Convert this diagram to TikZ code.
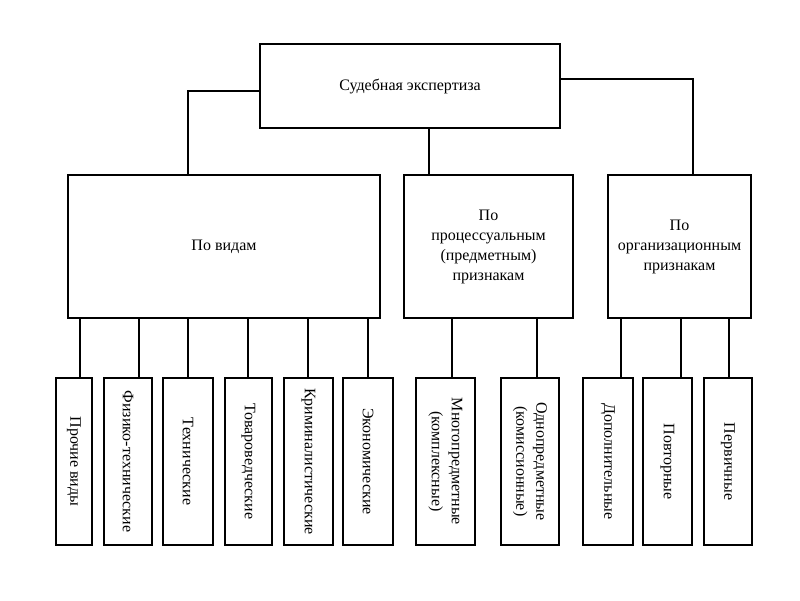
\documentclass[tikz,border=0pt]{standalone}
\usepackage{fontspec}
\setmainfont{Liberation Serif}
\usetikzlibrary{positioning}

\begin{document}
\begin{tikzpicture}[x=1pt, y=-1pt, font=\fontsize{16}{20}\selectfont,
    box/.style={rectangle, draw, line width=1.8pt, align=center},
    kind/.style={box, minimum width=#1, minimum height=167pt},
    vtext/.style={rotate=-90, align=center},
    link/.style={line width=1.3pt},
    thicklink/.style={line width=2pt}]
    \useasboundingbox (0,0) rectangle (800,600);

    % Root
    \node[box, minimum width=300pt, minimum height=84pt] (expert) at (410,86) {Судебная экспертиза};

    % Groups
    \node[box, minimum width=312pt, minimum height=143pt] (byKind) at (224,246.5) {По видам};
    \node[box, minimum width=169pt, minimum height=143pt] (byProc) at (488.5,246.5) {По\\процессуальным\\(предметным)\\признакам};
    \node[box, minimum width=143pt, minimum height=143pt] (byOrg) at (679.5,246.5) {По\\организационным\\признакам};

    % Kinds
    \node[kind=36pt, label={[vtext]center:Прочие виды}] (other) at (74,461.5) {};
    \node[kind=48pt, label={[vtext]center:Физико-технические}] (phys) at (128,461.5) {};
    \node[kind=50pt, label={[vtext]center:Технические}] (tech) at (188,461.5) {};
    \node[kind=47pt, label={[vtext]center:Товароведческие}] (goods) at (248.5,461.5) {};
    \node[kind=49pt, label={[vtext]center:Криминалистические}] (crim) at (308.5,461.5) {};
    \node[kind=50pt, label={[vtext]center:Экономические}] (econ) at (368,461.5) {};

    % Procedural
    \node[kind=59pt, label={[vtext]center:Многопредметные\\(комплексные)}] (multi) at (445.5,461.5) {};
    \node[kind=58pt, label={[vtext]center:Однопредметные\\(комиссионные)}] (single) at (530,461.5) {};

    % Organisational
    \node[kind=50pt, label={[vtext]center:Дополнительные}] (extra) at (608,461.5) {};
    \node[kind=49pt, label={[vtext]center:Повторные}] (repeat) at (667.5,461.5) {};
    \node[kind=48pt, label={[vtext]center:Первичные}] (first) at (728,461.5) {};

    % Connections
    \draw[link] (expert.west |- 0,91) -| (byKind.north -| 188,0);
    \draw[link] (expert.south -| 429,0) -- (byProc.north -| 429,0);
    \draw[link] (expert.east |- 0,79) -| (byOrg.north -| 693,0);

    \draw[thicklink] (byKind.south -| 80,0) -- (other.north -| 80,0);
    \draw[link] (byKind.south -| 139,0) -- (phys.north -| 139,0);
    \draw[link] (byKind.south -| 188,0) -- (tech.north -| 188,0);
    \draw[link] (byKind.south -| 248,0) -- (goods.north -| 248,0);
    \draw[link] (byKind.south -| 308,0) -- (crim.north -| 308,0);
    \draw[thicklink] (byKind.south -| 368,0) -- (econ.north -| 368,0);

    \draw[link] (byProc.south -| 452,0) -- (multi.north -| 452,0);
    \draw[thicklink] (byProc.south -| 537,0) -- (single.north -| 537,0);

    \draw[link] (byOrg.south -| 621,0) -- (extra.north -| 621,0);
    \draw[thicklink] (byOrg.south -| 681,0) -- (repeat.north -| 681,0);
    \draw[thicklink] (byOrg.south -| 729,0) -- (first.north -| 729,0);
\end{tikzpicture}
\end{document}
